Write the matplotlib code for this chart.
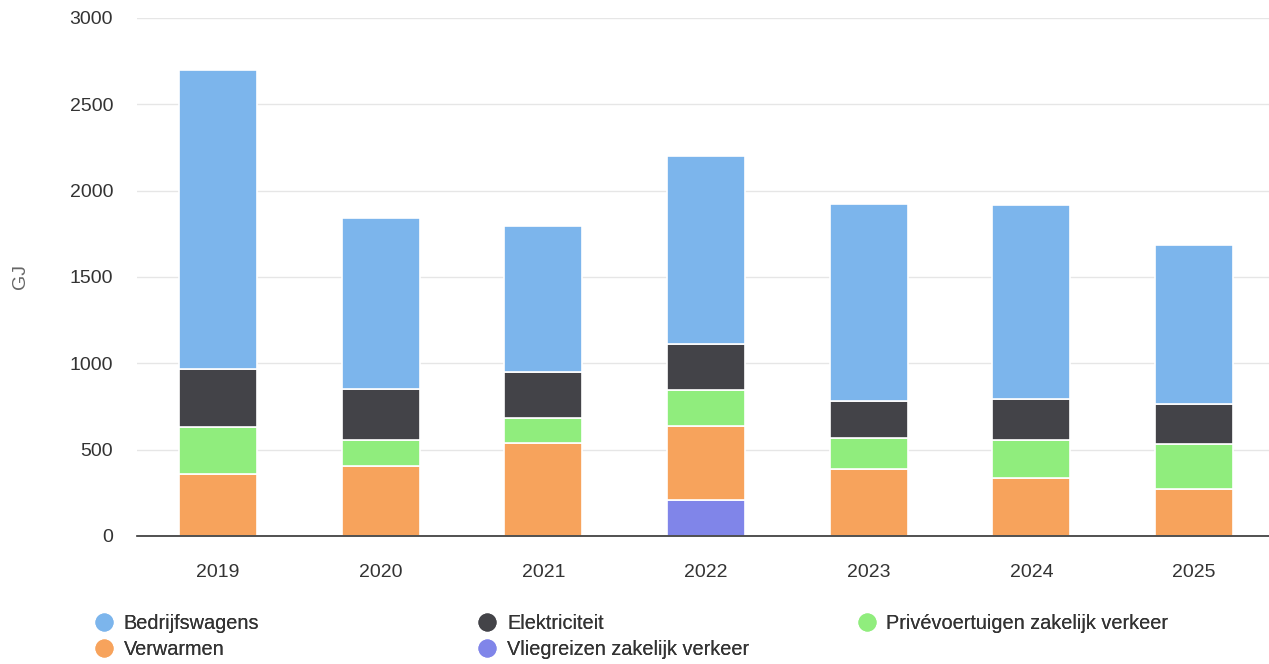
import matplotlib.pyplot as plt
from matplotlib.lines import Line2D
import numpy as np

plt.rcParams['font.family'] = ['Liberation Sans', 'DejaVu Sans']

years = ['2019', '2020', '2021', '2022', '2023', '2024', '2025']

# stacked from bottom to top
vliegreizen = [0, 0, 0, 208, 0, 0, 0]
verwarmen = [359, 405, 538, 429, 388, 336, 272]
prive = [272, 151, 145, 208, 179, 220, 261]
elektriciteit = [336, 295, 267, 267, 215, 237, 231]
bedrijfswagens = [1731, 990, 845, 1088, 1140, 1124, 921]

series = [
    ('Vliegreizen zakelijk verkeer', vliegreizen, '#8085e9'),
    ('Verwarmen', verwarmen, '#f7a35c'),
    ('Privévoertuigen zakelijk verkeer', prive, '#90ed7d'),
    ('Elektriciteit', elektriciteit, '#434348'),
    ('Bedrijfswagens', bedrijfswagens, '#7cb5ec'),
]

fig = plt.figure(figsize=(12.69, 6.64), dpi=100)
ax = fig.add_axes([0.1077, 0.193, 0.8973, 0.78])

x = np.arange(len(years))
bottom = np.zeros(len(years))
for name, vals, col in series:
    vals = np.array(vals, dtype=float)
    ax.bar(x, vals, bottom=bottom, width=0.48, color=col, edgecolor='white',
           linewidth=1.2, zorder=3)
    bottom += vals

ax.set_xlim(-0.5, len(years) - 0.5)
ax.set_ylim(0, 3000)
ax.set_yticks(range(0, 3001, 500))
ax.set_xticks(x)
ax.set_xticklabels(years)
ax.tick_params(axis='both', length=0, labelsize=14, colors='#333333')
ax.tick_params(axis='x', pad=20)
ax.tick_params(axis='y', pad=17)
ax.grid(axis='y', color='#e6e6e6', linewidth=1, zorder=0)
for s in ['top', 'right', 'left']:
    ax.spines[s].set_visible(False)
ax.spines['bottom'].set_color('#333333')
ax.spines['bottom'].set_linewidth(1.2)
ax.spines['bottom'].set_zorder(4)
ax.set_ylabel('GJ', fontsize=14, color='#666666')
ax.yaxis.set_label_coords(-0.0945, 0.5)

# legend: three columns at fixed positions
cols = {
    'Bedrijfswagens': '#7cb5ec', 'Verwarmen': '#f7a35c',
    'Elektriciteit': '#434348', 'Vliegreizen zakelijk verkeer': '#8085e9',
    'Privévoertuigen zakelijk verkeer': '#90ed7d',
}
groups = [
    (['Bedrijfswagens', 'Verwarmen'], 0.074),
    (['Elektriciteit', 'Vliegreizen zakelijk verkeer'], 0.376),
    (['Privévoertuigen zakelijk verkeer'], 0.675),
]
for names, xpos in groups:
    handles = [Line2D([], [], marker='o', linestyle='none', markersize=12,
                      markerfacecolor=cols[n], markeredgecolor=cols[n]) for n in names]
    leg = fig.legend(handles, names, loc='upper left', bbox_to_anchor=(xpos, 0.075),
                     frameon=False, fontsize=14.3, handlelength=1.0, handletextpad=0.5,
                     labelspacing=0.34, borderpad=0, borderaxespad=0, labelcolor='#333333')
    fig.add_artist(leg)

fig.savefig('out.png', dpi=100)
